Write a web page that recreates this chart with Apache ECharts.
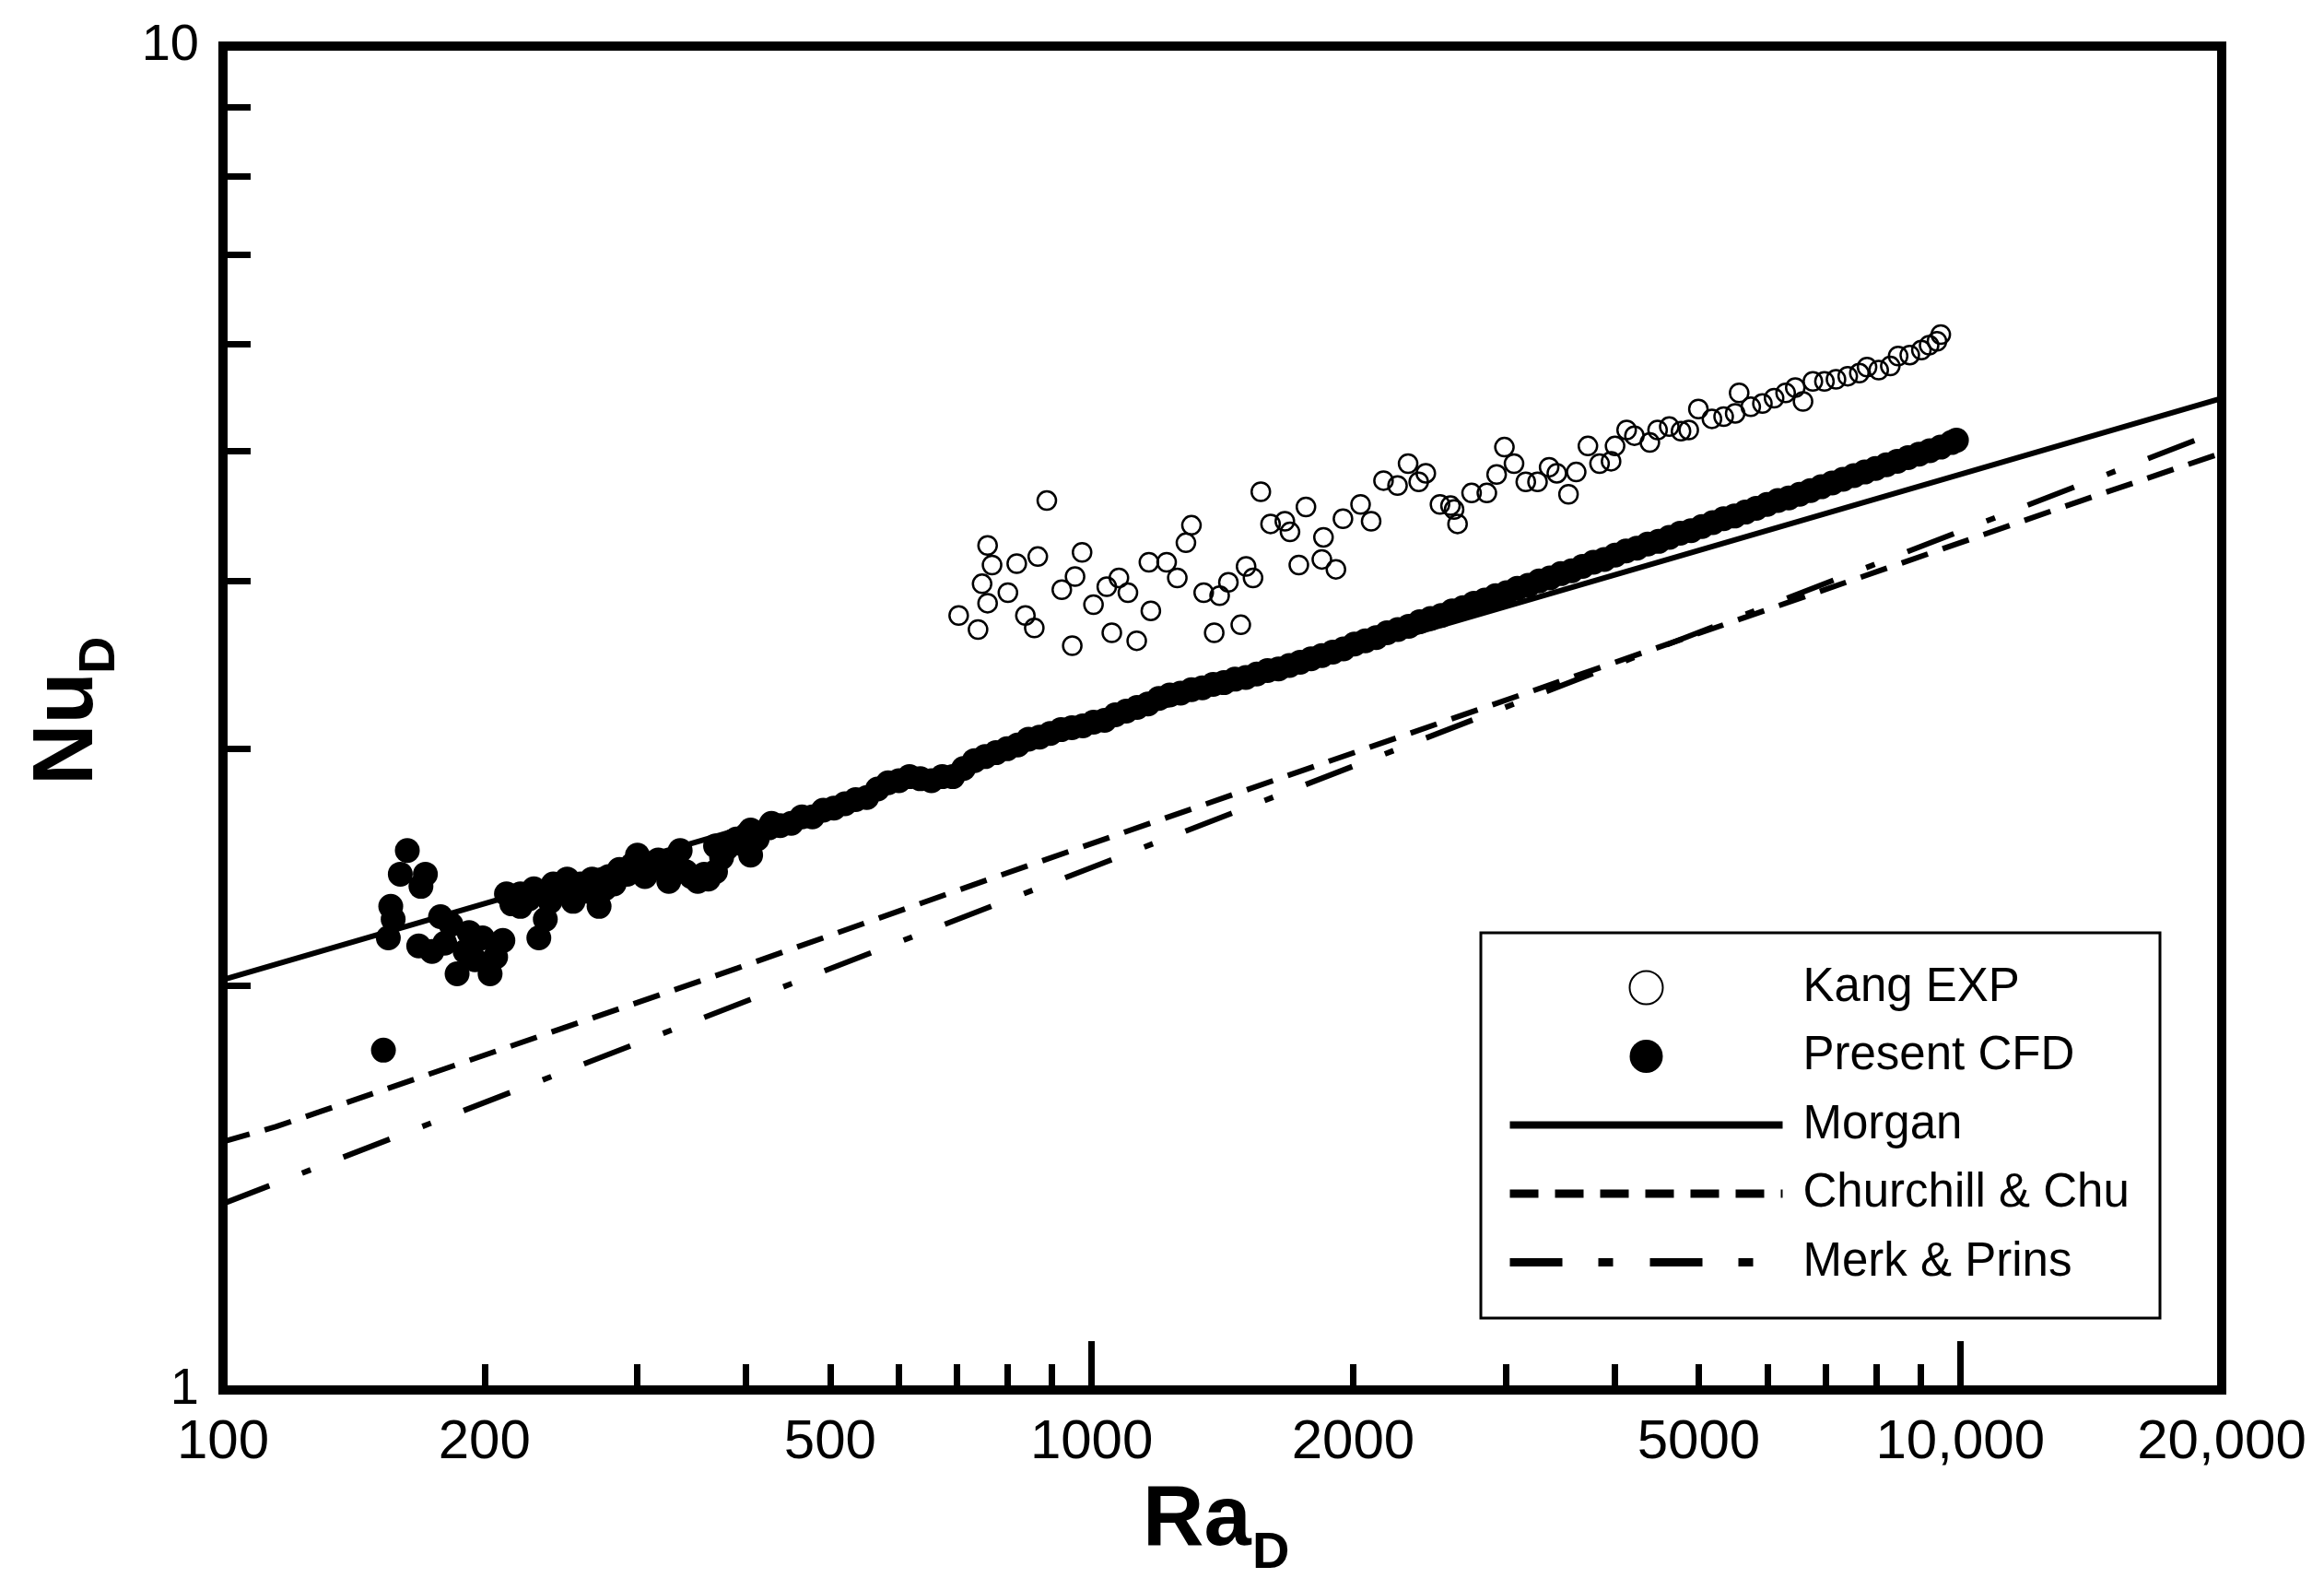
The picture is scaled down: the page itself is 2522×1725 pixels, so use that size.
<!DOCTYPE html>
<html lang="en">
<head>
    <meta charset="UTF-8">
    <title>Nu_D vs Ra_D</title>
    <script src="https://cdn.jsdelivr.net/npm/echarts@6.0.0/dist/echarts.min.js"></script>
    <style>
        html, body { margin: 0; padding: 0; background: #fff; }
        #chart { width: 2522px; height: 1725px; }
    </style>
</head>
<body>
<div id="chart"></div>
<script type="text/javascript">
    // values: [Ra_D, Nu_D]
    var kangExp = [
        [888, 4.59], [759, 4.25], [768, 4.11], [820, 4.12], [867, 4.17], [748, 3.98], [801, 3.92],
        [759, 3.85], [703, 3.77], [740, 3.68], [839, 3.77], [859, 3.69], [975, 4.20], [957, 4.03],
        [924, 3.94], [1005, 3.84], [1041, 3.96], [1075, 4.02], [1101, 3.92], [950, 3.58], [1055, 3.66],
        [1127, 3.61], [1170, 3.80], [1164, 4.13], [1220, 4.13], [1255, 4.02], [1303, 4.40], [1284, 4.27],
        [1346, 3.92], [1404, 3.90], [1437, 3.99], [1506, 4.10], [1534, 4.02], [1384, 3.66], [1485, 3.71],
        [1566, 4.66], [1607, 4.41], [1669, 4.43], [1692, 4.35], [1765, 4.54], [1849, 4.31], [1732, 4.11],
        [1841, 4.15], [1911, 4.08], [1947, 4.45], [2040, 4.56], [2098, 4.43], [2168, 4.75], [2250, 4.71],
        [2314, 4.89], [2425, 4.81], [2380, 4.74], [2518, 4.56], [2638, 4.41], [2589, 4.55], [2738, 4.65],
        [2614, 4.52], [2851, 4.65], [2926, 4.80], [2987, 5.03], [3064, 4.89], [3161, 4.74], [3261, 4.74],
        [3363, 4.86], [3432, 4.81], [3540, 4.64], [3613, 4.82], [3727, 5.04], [3844, 4.89], [3963, 4.91],
        [4005, 5.04], [4130, 5.18], [4216, 5.13], [4392, 5.07], [4483, 5.18], [4624, 5.21], [4770, 5.17],
        [4869, 5.18], [4995, 5.37], [5178, 5.28], [5341, 5.30], [5507, 5.33], [5565, 5.52], [5739, 5.39],
        [5919, 5.42], [6105, 5.47], [6295, 5.52], [6592, 5.44], [6458, 5.57], [6766, 5.63], [6977, 5.63],
        [7194, 5.65], [7421, 5.68], [7653, 5.71], [7811, 5.77], [8056, 5.74], [8308, 5.78], [8482, 5.88],
        [8748, 5.89], [9021, 5.94], [9208, 5.99], [9402, 6.03], [9497, 6.10]
    ];

    var presentCfd = [
        // scattered low-Ra part
        [153, 1.79], [163, 2.52], [160, 2.42], [171, 2.42], [169, 2.37], [156, 2.29], [155, 2.17],
        [157, 2.24], [174, 2.12], [186, 2.04], [203, 2.04], [199, 2.17], [210, 2.16], [183, 2.22],
        [178, 2.25], [168, 2.14], [180, 2.15], [190, 2.12], [195, 2.09], [192, 2.19], [206, 2.10],
        [212, 2.34], [215, 2.30], [220, 2.29], [220, 2.34], [225, 2.32], [228, 2.36], [231, 2.17],
        [235, 2.24], [238, 2.31], [240, 2.38], [244, 2.35], [249, 2.40], [253, 2.31], [258, 2.38],
        [263, 2.35], [266, 2.40], [271, 2.29], [275, 2.36], [278, 2.41], [282, 2.38], [286, 2.44],
        [292, 2.42], [296, 2.46], [300, 2.50], [306, 2.41], [311, 2.45], [317, 2.48], [321, 2.44],
        [326, 2.39], [331, 2.46], [336, 2.52], [341, 2.43], [346, 2.41], [352, 2.39], [358, 2.42],
        [362, 2.40], [369, 2.43], [369, 2.54], [375, 2.49], [380, 2.53], [386, 2.56], [395, 2.55],
        [405, 2.61], [405, 2.50], [412, 2.57], [428, 2.64],
        // dense band
        [390, 2.57], [401, 2.59], [413, 2.59], [425, 2.62], [438, 2.63], [451, 2.64], [464, 2.67],
        [477, 2.67], [491, 2.70], [505, 2.71], [520, 2.73], [535, 2.75], [551, 2.76], [567, 2.80],
        [583, 2.83], [600, 2.84], [617, 2.86], [635, 2.85], [654, 2.84], [673, 2.86], [692, 2.86],
        [712, 2.90], [733, 2.94], [754, 2.96], [776, 2.98], [799, 3.00], [822, 3.02], [846, 3.05],
        [871, 3.06], [896, 3.08], [922, 3.10], [949, 3.11], [977, 3.12], [1005, 3.14], [1035, 3.15],
        [1065, 3.18], [1096, 3.20], [1128, 3.22], [1161, 3.24], [1195, 3.27], [1230, 3.29], [1266, 3.30],
        [1303, 3.32], [1341, 3.33], [1380, 3.35], [1420, 3.36], [1462, 3.38], [1505, 3.39], [1549, 3.41],
        [1594, 3.43], [1641, 3.44], [1689, 3.46], [1738, 3.48], [1789, 3.50], [1841, 3.52], [1895, 3.54],
        [1950, 3.56], [2007, 3.59], [2066, 3.61], [2126, 3.63], [2188, 3.66], [2252, 3.68], [2318, 3.70],
        [2386, 3.73], [2456, 3.75], [2527, 3.77], [2601, 3.80], [2677, 3.82], [2755, 3.85], [2836, 3.87],
        [2918, 3.90], [3004, 3.92], [3091, 3.95], [3182, 3.97], [3275, 4.00], [3370, 4.02], [3469, 4.05],
        [3570, 4.07], [3674, 4.10], [3782, 4.13], [3892, 4.15], [4006, 4.18], [4123, 4.21], [4243, 4.23],
        [4367, 4.26], [4494, 4.28], [4625, 4.31], [4760, 4.34], [4899, 4.36], [5042, 4.39], [5189, 4.42],
        [5341, 4.45], [5497, 4.47], [5657, 4.50], [5822, 4.53], [5992, 4.56], [6167, 4.59], [6347, 4.61],
        [6532, 4.64], [6723, 4.67], [6919, 4.70], [7121, 4.73], [7329, 4.76], [7543, 4.79], [7763, 4.82],
        [7989, 4.85], [8222, 4.88], [8462, 4.91], [8709, 4.94], [8963, 4.97], [9225, 5.00], [9494, 5.03],
        [9771, 5.07], [9900, 5.09]
    ];

    var morgan = [[100, 2.02], [20000, 5.47]];
    var churchillChu = [[100, 1.53], [115, 1.57], [129, 1.61], [391, 2.06], [763, 2.40],
        [1858, 2.93], [5669, 3.76], [13795, 4.59], [20000, 4.98]];
    var merkPrins = [[100, 1.376], [20000, 5.18]];

    var xLabels = [100, 200, 500, 1000, 2000, 5000, 10000, 20000];
    var xMinorTicks = [200, 300, 400, 500, 600, 700, 800, 900, 2000, 3000, 4000, 5000, 6000, 7000, 8000, 9000];
    var xMajorTicks = [1000, 10000];
    var yLabels = [1, 10];
    var yTicks = [2, 3, 4, 5, 6, 7, 8, 9];

    var FONT = 'Arial, "Liberation Sans", sans-serif';

    function fmt(v) {
        return v >= 10000 ? String(v).replace(/(\d)(?=(\d{3})+$)/g, '$1,') : String(v);
    }

    var myChart = echarts.init(document.getElementById('chart'), null, {renderer: 'canvas'});

    // line legend items: hide the default marker drawn in the middle of the sample
    var noMarker = {opacity: 0};

    var option = {
        backgroundColor: '#fff',
        animation: false,
        textStyle: {fontFamily: FONT, color: '#000'},
        grid: {
            left: 242, top: 50, width: 2169, height: 1458,
            show: true, borderColor: '#000', borderWidth: 10,
            backgroundColor: 'transparent',
            outerBoundsMode: 'none'
        },
        xAxis: [{
            type: 'log', logBase: 10, min: 100, max: 20000, position: 'bottom',
            axisLine: {show: false},
            splitLine: {show: false},
            minorTick: {show: false},
            axisTick: {show: true, inside: true, length: 28, customValues: xMinorTicks,
                lineStyle: {color: '#000', width: 7}},
            axisLabel: {show: true, customValues: xLabels, margin: 27, fontSize: 60,
                color: '#000', fontFamily: FONT, formatter: fmt}
        }, {
            type: 'log', logBase: 10, min: 100, max: 20000, position: 'bottom', gridIndex: 0,
            axisLine: {show: false},
            splitLine: {show: false},
            axisTick: {show: true, inside: true, length: 53, customValues: xMajorTicks,
                lineStyle: {color: '#000', width: 7}},
            axisLabel: {show: false}
        }],
        yAxis: {
            type: 'log', logBase: 10, min: 1, max: 10, position: 'left',
            axisLine: {show: false},
            splitLine: {show: false},
            axisTick: {show: true, inside: true, length: 30, customValues: yTicks,
                lineStyle: {color: '#000', width: 7}},
            axisLabel: {show: true, customValues: yLabels, margin: 26, fontSize: 56,
                color: '#000', fontFamily: FONT, formatter: fmt}
        },
        legend: {
            orient: 'vertical', left: 1634, top: 1046, padding: 0,
            itemWidth: 296, itemHeight: 36, itemGap: 23.5,
            selectedMode: false,
            textStyle: {fontSize: 51, color: '#000', fontFamily: FONT, padding: [0, 0, 0, 17]},
            data: [
                {name: 'Kang EXP'},
                {name: 'Present CFD'},
                {name: 'Morgan', itemStyle: noMarker, lineStyle: {width: 8, type: 'solid'}},
                {name: 'Churchill & Chu', itemStyle: noMarker, lineStyle: {width: 9, type: [31, 18]}},
                {name: 'Merk & Prins', itemStyle: noMarker, lineStyle: {width: 9, type: [57, 39, 16, 40]}}
            ]
        },
        graphic: [
            {type: 'rect', silent: true, z: 10,
                shape: {x: 1607, y: 1012, width: 737, height: 418},
                style: {fill: 'none', stroke: '#000', lineWidth: 3}},
            {type: 'text', x: 1240, y: 1651, silent: true,
                style: {text: 'Ra', font: 'bold 92px ' + FONT, fill: '#000',
                    align: 'left', verticalAlign: 'middle', textAlign: 'left', textVerticalAlign: 'middle'}},
            {type: 'text', x: 1359, y: 1686, silent: true,
                style: {text: 'D', font: 'bold 56px ' + FONT, fill: '#000',
                    align: 'left', verticalAlign: 'middle', textAlign: 'left', textVerticalAlign: 'middle'}},
            {type: 'text', x: 75, y: 852, rotation: Math.PI / 2, silent: true,
                style: {text: 'Nu', font: 'bold 92px ' + FONT, fill: '#000',
                    align: 'left', verticalAlign: 'middle', textAlign: 'left', textVerticalAlign: 'middle'}},
            {type: 'text', x: 109, y: 731, rotation: Math.PI / 2, silent: true,
                style: {text: 'D', font: 'bold 56px ' + FONT, fill: '#000',
                    align: 'left', verticalAlign: 'middle', textAlign: 'left', textVerticalAlign: 'middle'}}
        ],
        series: [{
            name: 'Kang EXP', type: 'scatter', data: kangExp,
            symbol: 'circle', symbolSize: 20,
            itemStyle: {color: 'rgba(0,0,0,0)', borderColor: '#000', borderWidth: 2.5, opacity: 1},
            z: 4
        }, {
            name: 'Present CFD', type: 'scatter', data: presentCfd,
            symbol: 'circle', symbolSize: 27,
            itemStyle: {color: '#000', opacity: 1},
            z: 3
        }, {
            name: 'Morgan', type: 'line', data: morgan, symbol: 'none',
            lineStyle: {color: '#000', width: 6, type: 'solid'},
            itemStyle: {color: '#000'}, z: 2
        }, {
            name: 'Churchill & Chu', type: 'line', data: churchillChu, symbol: 'none',
            lineStyle: {color: '#000', width: 6, type: [30, 17]},
            itemStyle: {color: '#000'}, z: 2
        }, {
            name: 'Merk & Prins', type: 'line', data: merkPrins, symbol: 'none',
            lineStyle: {color: '#000', width: 6, type: [54, 38, 10, 38]},
            itemStyle: {color: '#000'}, z: 2
        }]
    };

    myChart.setOption(option);
</script>
</body>
</html>
